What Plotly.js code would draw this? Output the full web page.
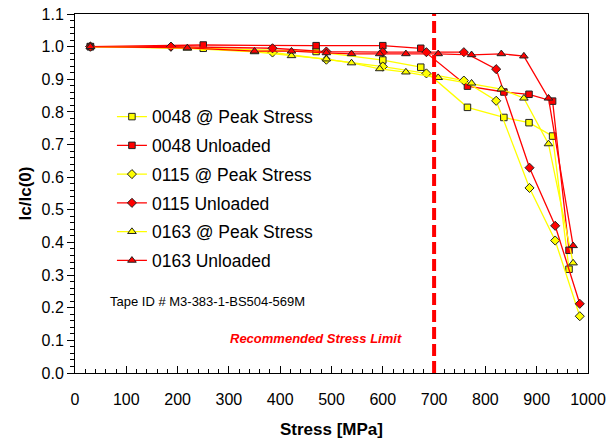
<!DOCTYPE html>
<html>
<head>
<meta charset="utf-8">
<script src="https://cdn.plot.ly/plotly-3.0.1.min.js"></script>
<style>html,body{margin:0;padding:0;background:#fff;}#chart{width:611px;height:439px;}</style>
</head>
<body>
<div id="chart"></div>
<script>
// Data
const names = ["0048 @ Peak Stress","0048 Unloaded","0115 @ Peak Stress","0115 Unloaded","0163 @ Peak Stress","0163 Unloaded"];

const stress0048 = [30, 250, 470, 600, 674, 765, 836, 885, 931, 963];
const peak0048   = [1.0, 0.995, 0.985, 0.959, 0.937, 0.814, 0.783, 0.767, 0.726, 0.318];
const unl0048    = [1.0, 1.005, 1.003, 1.003, 0.995, 0.879, 0.861, 0.854, 0.833, 0.376];

const stress0115 = [30, 187, 385, 490, 600, 685, 758, 821, 886, 936, 984];
const peak0115   = [1.0, 1.0, 0.982, 0.96, 0.939, 0.918, 0.896, 0.834, 0.567, 0.406, 0.174];
const unl0115    = [1.0, 1.0, 0.995, 0.985, 0.983, 0.983, 0.983, 0.931, 0.629, 0.451, 0.212];

const stress0163 = [30, 219, 350, 422, 490, 539, 594, 645, 708, 773, 831, 875, 923, 971];
const peak0163   = [1.0, 0.995, 0.984, 0.972, 0.962, 0.95, 0.932, 0.922, 0.905, 0.888, 0.870, 0.842, 0.702, 0.337];
const unl0163    = [1.0, 0.996, 0.986, 0.986, 0.981, 0.978, 0.978, 0.978, 0.978, 0.975, 0.978, 0.971, 0.842, 0.39];

const limitStress = 700;
const tapeLabel = "Tape ID # M3-383-1-BS504-569M";
const limitLabel = "Recommended Stress Limit";

const YEL = "#FFFF00", RED = "#FF0000", EDGE = "#222222";

function tr(name, x, y, color, symbol, size, group) {
  return {
    type: "scatter", mode: "lines+markers", name: name, x: x, y: y,
    legendgroup: group,
    line: {color: color, width: 1.3},
    marker: {color: color, symbol: symbol, size: size, line: {color: EDGE, width: 1}}
  };
}

const data = [
  tr(names[0], stress0048, peak0048, YEL, "square", 6.5, "a"),
  tr(names[1], stress0048, unl0048, RED, "square", 6.5, "b"),
  tr(names[2], stress0115, peak0115, YEL, "diamond", 7, "c"),
  tr(names[3], stress0115, unl0115, RED, "diamond", 7, "d"),
  tr(names[4], stress0163, peak0163, YEL, "triangle-up", 7.5, "e"),
  tr(names[5], stress0163, unl0163, RED, "triangle-up", 7.5, "f")
];

const axisFont = {family: "Liberation Sans, Arial, sans-serif", size: 16, color: "#000"};

const layout = {
  width: 611, height: 439,
  margin: {l: 75, r: 23, t: 14, b: 66},
  paper_bgcolor: "#fff", plot_bgcolor: "#fff",
  font: {family: "Liberation Sans, Arial, sans-serif", color: "#000"},
  showlegend: true,
  legend: {
    x: 0.072, y: 0.764, xanchor: "left", yanchor: "top",
    bgcolor: "rgba(255,255,255,0)", borderwidth: 0,
    font: {family: "Liberation Sans, Arial, sans-serif", size: 17.5, color: "#000"},
    tracegroupgap: 3, traceorder: "grouped", itemwidth: 30
  },
  xaxis: {
    range: [0, 1000], dtick: 100, tick0: 0,
    showgrid: false, zeroline: false,
    showline: true, linecolor: "#000", linewidth: 1, mirror: true,
    ticks: "inside", ticklen: 7, tickcolor: "#000",
    minor: {dtick: 20, ticks: "inside", ticklen: 4, tickcolor: "#000"},
    tickfont: axisFont, ticklabelstandoff: 12,
    title: {text: "<b>Stress [MPa]</b>", font: {family: "Liberation Sans, Arial, sans-serif", size: 17, color: "#000"}, standoff: 15}
  },
  yaxis: {
    range: [0, 1.1], dtick: 0.1, tick0: 0, tickformat: ".1f",
    showgrid: false, zeroline: false,
    showline: true, linecolor: "#000", linewidth: 1, mirror: true,
    ticks: "outside", ticklen: 7, tickcolor: "#000",
    minor: {dtick: 0.02, ticks: "outside", ticklen: 4, tickcolor: "#000"},
    tickfont: axisFont,
    title: {text: "<b>Ic/Ic(0)</b>", font: {family: "Liberation Sans, Arial, sans-serif", size: 17, color: "#000"}, standoff: 5}
  },
  shapes: [{
    type: "line", xref: "x", yref: "y", x0: limitStress, x1: limitStress, y0: 0, y1: 1.1,
    line: {color: RED, width: 4, dash: "12px,5px"}
  }],
  annotations: [
    {text: tapeLabel, xref: "x", yref: "y", x: 65, y: 0.22, xanchor: "left", yanchor: "middle",
     showarrow: false, font: {family: "Liberation Sans, Arial, sans-serif", size: 13, color: "#000"}},
    {text: "<b><i>" + limitLabel + "</i></b>", xref: "x", yref: "y", x: 470, y: 0.105, xanchor: "center", yanchor: "middle",
     showarrow: false, font: {family: "Liberation Sans, Arial, sans-serif", size: 13, color: RED}}
  ]
};

Plotly.newPlot("chart", data, layout, {staticPlot: true, displayModeBar: false});
</script>
</body>
</html>
